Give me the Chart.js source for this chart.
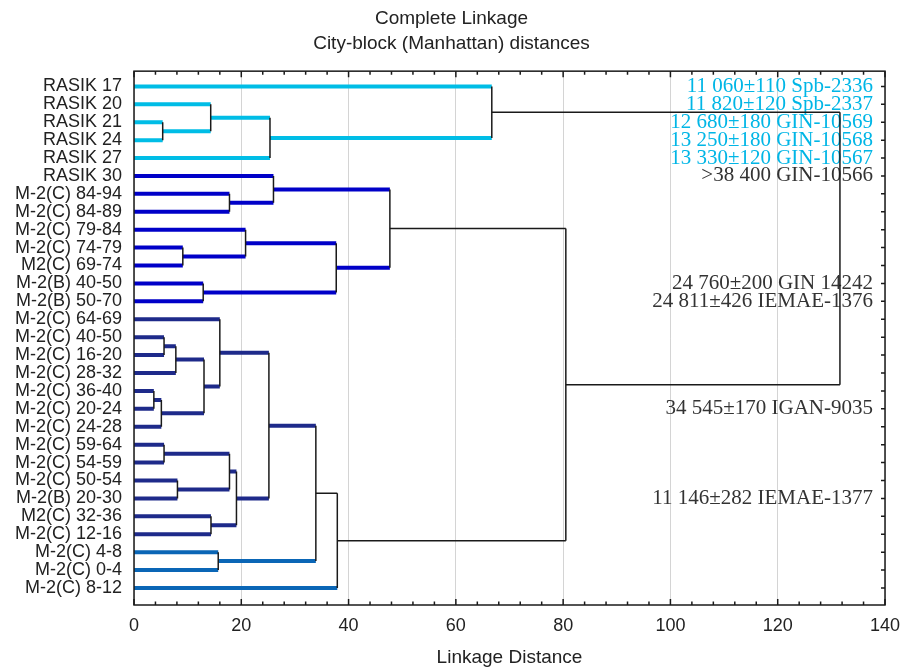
<!DOCTYPE html>
<html>
<head>
<meta charset="utf-8">
<script src="https://cdn.jsdelivr.net/npm/chart.js@4.4.1/dist/chart.umd.min.js"></script>
<style>
  body { margin: 0; background: #fff; }
  #wrap { width: 903px; height: 669px; }
</style>
</head>
<body>
<div id="wrap"><canvas id="dendroChart"></canvas></div>
<script>
var leafLabels = [
    'RASIK 17', 'RASIK 20', 'RASIK 21', 'RASIK 24', 'RASIK 27', 'RASIK 30',
    'M-2(C) 84-94', 'M-2(C) 84-89', 'M-2(C) 79-84', 'M-2(C) 74-79', 'M2(C) 69-74',
    'M-2(B) 40-50', 'M-2(B) 50-70', 'M-2(C) 64-69', 'M-2(C) 40-50', 'M-2(C) 16-20',
    'M-2(C) 28-32', 'M-2(C) 36-40', 'M-2(C) 20-24', 'M-2(C) 24-28', 'M-2(C) 59-64',
    'M-2(C) 54-59', 'M-2(C) 50-54', 'M-2(B) 20-30', 'M2(C) 32-36', 'M-2(C) 12-16',
    'M-2(C) 4-8', 'M-2(C) 0-4', 'M-2(C) 8-12'
];

// radiocarbon dates written at the right edge, one slot per leaf
var dateLabels = [
    '11 060\u00b1110 Spb-2336', '11 820\u00b1120 Spb-2337', '12 680\u00b1180 GIN-10569',
    '13 250\u00b1180 GIN-10568', '13 330\u00b1120 GIN-10567', '>38 400 GIN-10566',
    '', '', '', '', '',
    '24 760\u00b1200 GIN 14242', '24 811\u00b1426 IEMAE-1376',
    '', '', '', '', '',
    '34 545\u00b1170 IGAN-9035',
    '', '', '', '',
    '11 146\u00b1282 IEMAE-1377',
    '', '', '', '', ''
];
var cyanDates = [0, 1, 2, 3, 4];

// cluster group of every leaf (picks the branch colour)
var leafGroup = [0, 0, 0, 0, 0, 1, 1, 1, 1, 1, 1, 1, 1,
    2, 2, 2, 2, 2, 2, 2, 2, 2, 2, 2, 2, 2, 3, 3, 3];
var groupColors = ['#00BDE6', '#0000C8', '#1E2A8A', '#0A66B6'];
var colorCut = 70;

// merges: [left node, right node, linkage distance]; leaves are 0..28, merge k makes node 29+k
var merges = [
    [2, 3, 5.35], [1, 29, 14.3], [30, 4, 25.35], [0, 31, 66.7],
    [6, 7, 17.8], [5, 33, 26.0], [9, 10, 9.1], [8, 35, 20.8], [11, 12, 12.9],
    [36, 37, 37.7], [34, 38, 47.7],
    [14, 15, 5.6], [40, 16, 7.8], [17, 18, 3.7], [42, 19, 5.1], [41, 43, 13.05],
    [13, 44, 16.0], [20, 21, 5.6], [22, 23, 8.1], [46, 47, 17.8], [24, 25, 14.35],
    [48, 49, 19.1], [45, 50, 25.15], [26, 27, 15.7], [51, 52, 33.9], [53, 28, 37.9],
    [39, 54, 80.5], [32, 55, 131.6]
];

var xTicks = [0, 20, 40, 60, 80, 100, 120, 140];
var minorStep = 4;

var sansFont = 'Arial, "Liberation Sans", sans-serif';
var serifFont = '"Times New Roman", "Liberation Serif", serif';


var nodeY = leafLabels.map(function (l, i) { return i; });
var nodeH = leafLabels.map(function () { return 0; });
var nodeLeaves = leafLabels.map(function (l, i) { return [i]; });
var datasets = [];

function branchColor(c, h) {
    if (h >= colorCut) return '#1a1a1a';
    var g = leafGroup[nodeLeaves[c][0]];
    var same = nodeLeaves[c].every(function (i) { return leafGroup[i] === g; });
    return same ? groupColors[g] : '#1a1a1a';
}

function addSegment(p1, p2, color, width, order) {
    datasets.push({
        data: [p1, p2],
        showLine: true,
        pointRadius: 0,
        borderColor: color,
        borderWidth: width,
        order: order
    });
}

merges.forEach(function (m) {
    var a = m[0], b = m[1], h = m[2];
    nodeY.push((nodeY[a] + nodeY[b]) / 2);
    nodeH.push(h);
    nodeLeaves.push(nodeLeaves[a].concat(nodeLeaves[b]));
    [a, b].forEach(function (c) {
        var col = branchColor(c, h);
        var w = col === '#1a1a1a' ? 1.5 : 4;
        addSegment({x: nodeH[c], y: nodeY[c]}, {x: h, y: nodeY[c]}, col, w, 1);
    });
    addSegment({x: h, y: nodeY[a]}, {x: h, y: nodeY[b]}, '#1a1a1a', 1.5, 0);
});

// frame and the small inward ticks of the original plot
var frameTicks = {
    id: 'frameTicks',
    afterDatasetsDraw: function (chart) {
        var a = chart.chartArea, ctx = chart.ctx;
        var xs = chart.scales.x, ys = chart.scales.y;
        ctx.save();
        ctx.strokeStyle = '#1a1a1a';
        ctx.lineWidth = 1.5;
        ctx.strokeRect(a.left, a.top, a.right - a.left, a.bottom - a.top);
        ctx.beginPath();
        for (var v = xTicks[0]; v <= xTicks[xTicks.length - 1]; v += minorStep) {
            var px = xs.getPixelForValue(v);
            var len = xTicks.indexOf(v) >= 0 ? 6 : 3.5;
            ctx.moveTo(px, a.bottom); ctx.lineTo(px, a.bottom - len);
            ctx.moveTo(px, a.top); ctx.lineTo(px, a.top + len);
        }
        leafLabels.forEach(function (l, i) {
            var py = ys.getPixelForValue(i);
            ctx.moveTo(a.right, py); ctx.lineTo(a.right - 4, py);
        });
        ctx.stroke();
        ctx.restore();
    }
};

function leafTicks(scale) {
    scale.ticks = leafLabels.map(function (l, i) { return {value: i}; });
}

new Chart(document.getElementById('dendroChart'), {
    type: 'scatter',
    data: { datasets: datasets },
    plugins: [frameTicks],
    options: {
        responsive: true,
        maintainAspectRatio: false,
        animation: false,
        layout: { padding: 0 },
        plugins: {
            legend: { display: false },
            tooltip: { enabled: false },
            title: {
                display: true,
                text: ['Complete Linkage', 'City-block (Manhattan) distances'],
                color: '#222',
                font: { family: sansFont, size: 19, weight: 'normal', lineHeight: 1.32 },
                padding: { top: 6, bottom: 15 }
            }
        },
        scales: {
            x: {
                type: 'linear',
                position: 'bottom',
                min: 0,
                max: 140,
                afterBuildTicks: function (s) { s.ticks = xTicks.map(function (v) { return {value: v}; }); },
                ticks: { color: '#222', font: { family: sansFont, size: 18 }, padding: 10 },
                grid: { color: '#d4d4d4', lineWidth: 1, drawTicks: false },
                border: { display: false },
                title: {
                    display: true,
                    text: 'Linkage Distance',
                    color: '#222',
                    font: { family: sansFont, size: 19 },
                    padding: { top: 0, bottom: 0 }
                },
                afterFit: function (s) {
                    s.height = 64;
                    s.paddingLeft = 0;
                    s.paddingRight = 0;
                }
            },
            y: {
                type: 'linear',
                position: 'left',
                reverse: true,
                min: -0.85,
                max: 28.95,
                afterBuildTicks: leafTicks,
                ticks: {
                    autoSkip: false,
                    color: '#222',
                    font: { family: sansFont, size: 18 },
                    padding: 12,
                    callback: function (v) { return leafLabels[v]; }
                },
                grid: { display: false, drawTicks: false },
                border: { display: false },
                afterFit: function (s) { s.width = 134; }
            },
            y2: {
                type: 'linear',
                position: 'right',
                reverse: true,
                min: -0.85,
                max: 28.95,
                afterBuildTicks: leafTicks,
                ticks: {
                    autoSkip: false,
                    mirror: true,
                    padding: -12,
                    font: { family: serifFont, size: 21 },
                    color: function (ctx) { return cyanDates.indexOf(ctx.index) >= 0 ? '#00B6E6' : '#333'; },
                    callback: function (v) { return dateLabels[v]; }
                },
                grid: { display: false, drawTicks: false },
                border: { display: false },
                afterFit: function (s) { s.width = 18; }
            }
        }
    }
});
</script>
</body>
</html>
